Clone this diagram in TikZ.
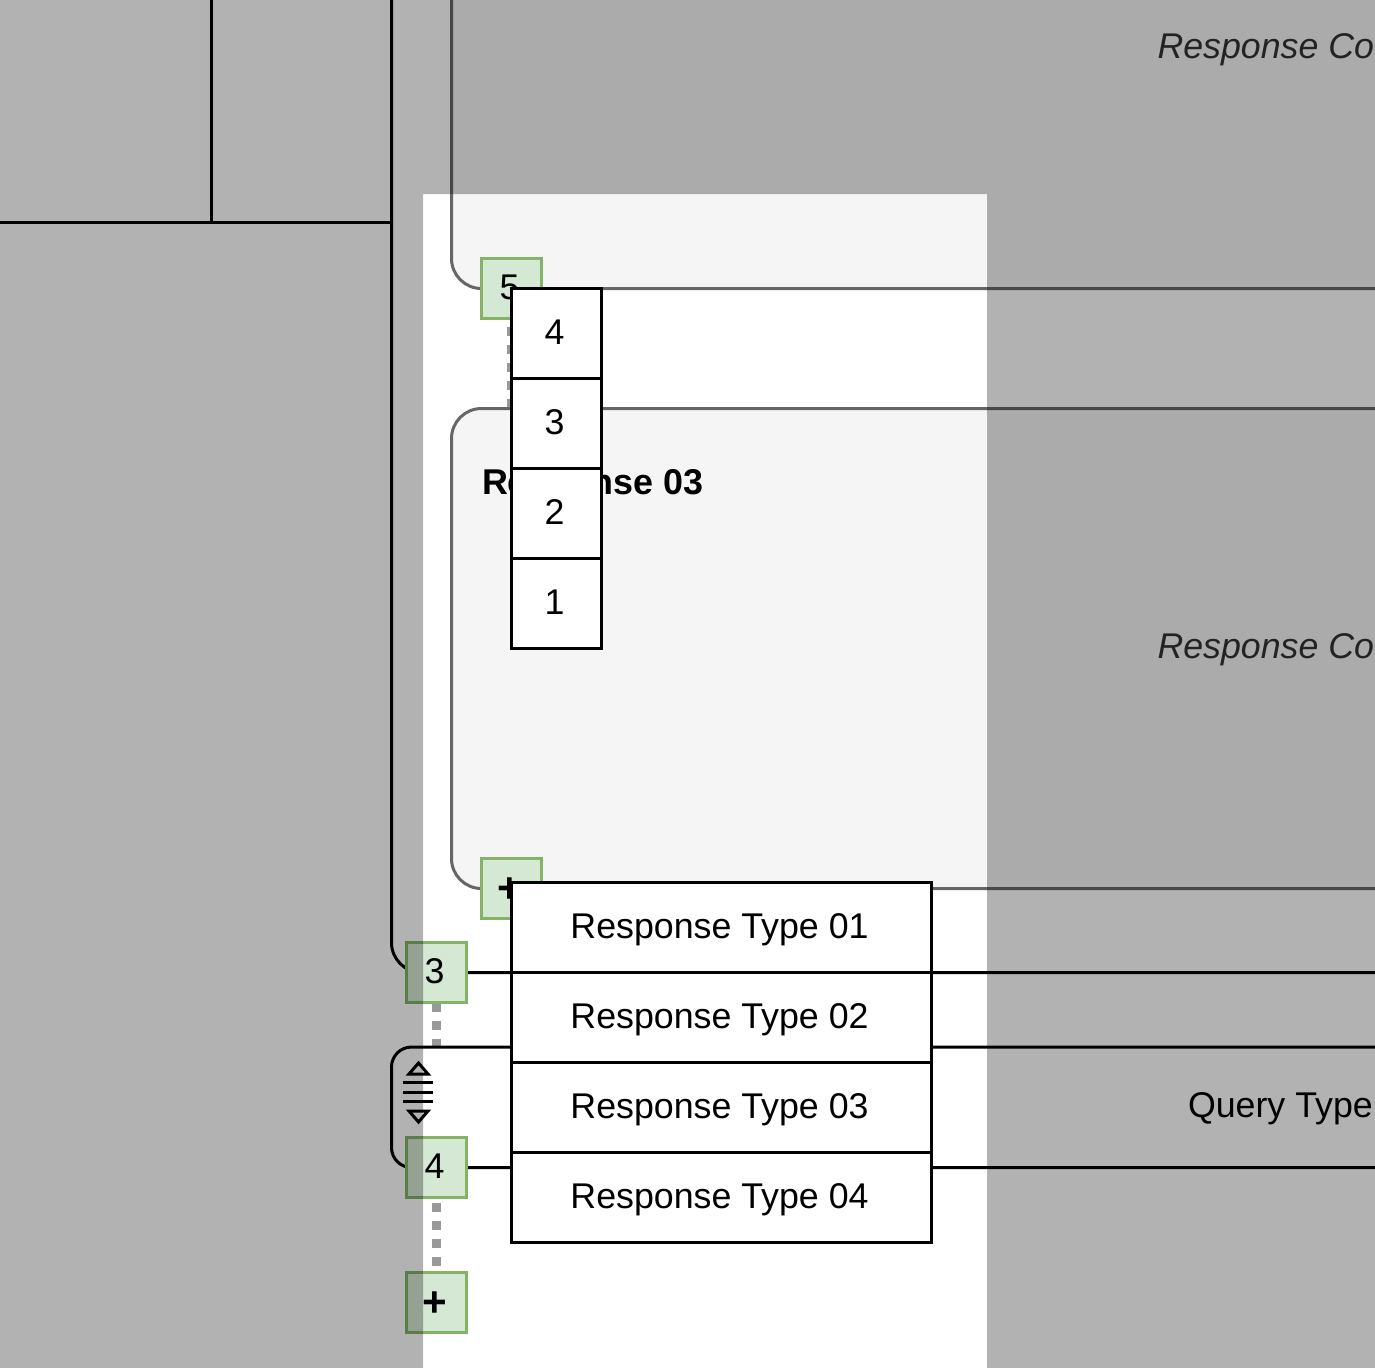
\documentclass[tikz,border=0pt]{standalone}
\usepackage{xcolor}
\usepackage{fontspec}
\setmainfont{Liberation Sans}
\usepackage{tikz}
\pgfdeclarelayer{back}
\pgfsetlayers{back,main}
\definecolor{boxfill}{HTML}{D5E8D4}
\definecolor{boxline}{HTML}{82B366}
\definecolor{panelfill}{HTML}{F5F5F5}
\definecolor{panelline}{HTML}{666666}
\definecolor{dotline}{HTML}{999999}
\definecolor{notetext}{HTML}{333333}
\tikzstyle{every node}=[font=\fontsize{20.35}{24}\selectfont, inner sep=0pt, outer sep=0pt]
\tikzset{
    panel/.style={fill=panelfill, draw=panelline, line width=.06cm, rounded corners=.6cm},
    frame/.style={draw=black, line width=.06cm},
    addbox/.style={draw=boxline, fill=boxfill, line width=.06cm, minimum width=1.2cm, minimum height=1.2cm, text height=.42cm, text depth=0pt, execute at begin node={\kern-.08cm}},
    plusbox/.style={addbox, font=\fontsize{24}{27}\selectfont\bfseries, text height=.54cm},
    cell/.style={draw=black, fill=white, line width=.06cm, minimum height=1.8cm, text height=.42cm, text depth=0pt, execute at begin node={\kern-.08cm}},
    dotted link/.style={draw=dotline, line width=.18cm, dash pattern=on .18cm off .18cm},
    icon/.style={draw=black, line width=.06cm},
    note/.style={anchor=base west, text=notetext, font=\fontsize{20.35}{24}\selectfont\itshape}
}

\begin{document}
\begin{tikzpicture}[x=.02cm, y=-.02cm]
            \def\listx{556.5}
            \def\typex{721.5}

            \useasboundingbox (0, 0) rectangle (1375, 1367);
            \clip (0, 0) rectangle (1375, 1367);

            \node[addbox] (boxfive) at (511.5, 288.5) {5};
            \node[plusbox] (boxmore) at (511.5, 888.5) {+};
            \node[addbox] (boxthree) at (436.5, 972.5) {3};
            \node[addbox] (boxfour) at (436.5, 1167.5) {4};
            \node[plusbox] (boxadd) at (436.5, 1302.5) {+};

            \begin{pgfonlayer}{back}
            \clip (0, 0) rectangle (1375, 1367);
            \draw[frame, rounded corners=.6cm] (391.5, -40) -- (391.5, 972.5) -- (1420, 972.5);
            \draw[frame] (0, 222.5) -- (391.5, 222.5);
            \draw[frame] (211.5, 0) -- (211.5, 222.5);

            \draw[dotted link, dash phase=.19cm] (boxfive.south) -- (boxmore.north);
            \draw[dotted link] (boxthree.south) -- (boxfour.north);
            \draw[dotted link, dash phase=.25cm] (boxfour.south) -- (boxadd.north);

            \draw[frame, fill=white, rounded corners=.4cm] (1420, 1047) -- (391.5, 1047) -- (391.5, 1167.5) -- (1420, 1167.5);
            \draw[panel] (451.5, -40) -- (451.5, 288.5) -- (1420, 288.5) -- (1420, -40) -- cycle;
            \draw[panel] (451.5, 408.5) -- (451.5, 888.5) -- (1420, 888.5) -- (1420, 408.5) -- cycle;
            \end{pgfonlayer}

            \node[note] (contenta) at (1157.5, 58.5) {Response Co};
            \node[note] (contentb) at (1157.5, 658.5) {Response Co};
            \node[anchor=base west, font=\fontsize{20.4}{24}\selectfont\bfseries] (title) at (482, 494) {Response 03};
            \node[anchor=base west] (query) at (1188, 1117) {Query Type};

            \draw[icon] (418.5, 1063) -- (428, 1074) -- (409, 1074) -- cycle;
            \draw[icon] (403, 1082) -- (433, 1082);
            \draw[icon] (403, 1092) -- (433, 1092);
            \draw[icon] (403, 1101) -- (433, 1101);
            \draw[icon] (409, 1111) -- (428, 1111) -- (418.5, 1122) -- cycle;

            \fill[black, opacity=.3, even odd rule] (-10, -10) rectangle (1385, 1385) (423, 194) rectangle (987, 1385);

            \node[cell, minimum width=1.8cm] (listfour) at (\listx, 333.5) {4};
            \node[cell, minimum width=1.8cm] (listthree) at (\listx, 423.5) {3};
            \node[cell, minimum width=1.8cm] (listtwo) at (\listx, 513.5) {2};
            \node[cell, minimum width=1.8cm] (listone) at (\listx, 603.5) {1};

            \node[cell, minimum width=8.4cm] (typeone) at (\typex, 927.5) {Response Type 01};
            \node[cell, minimum width=8.4cm] (typetwo) at (\typex, 1017.5) {Response Type 02};
            \node[cell, minimum width=8.4cm] (typethree) at (\typex, 1107.5) {Response Type 03};
            \node[cell, minimum width=8.4cm] (typefour) at (\typex, 1197.5) {Response Type 04};
        \end{tikzpicture}
\end{document}
